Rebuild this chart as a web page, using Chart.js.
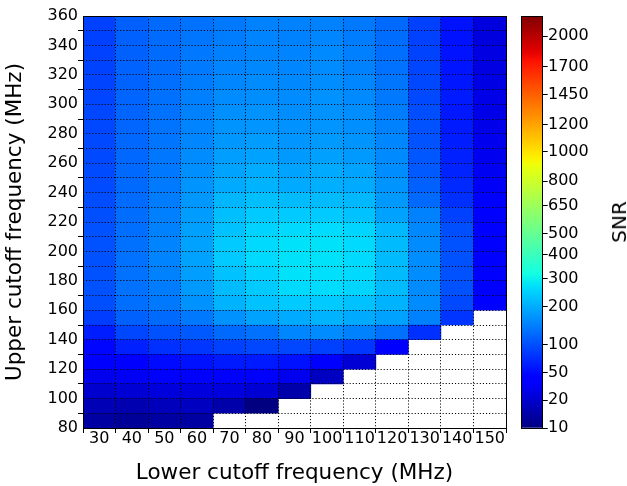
<!DOCTYPE html>
<html>
<head>
<meta charset="utf-8">
<script src="https://cdn.jsdelivr.net/npm/chart.js@4.4.1/dist/chart.umd.min.js"></script>
<style>
  html, body { margin: 0; padding: 0; background: #fff; }
  #wrap { position: relative; width: 627px; height: 486px; }
  #heat { position: absolute; left: 0; top: 0; }
  #cbar { position: absolute; left: 500px; top: 0; }
  #snrLabel {
    position: absolute; left: 618.5px; top: 222px;
    transform: translate(-50%, -50%) rotate(-90deg);
    font: 20px 'DejaVu Sans'; line-height: 1; color: #000; white-space: nowrap;
  }
</style>
</head>
<body>
<div id="wrap">
  <canvas id="heat" width="627" height="486"></canvas>
  <canvas id="cbar" width="127" height="486"></canvas>
  <div id="snrLabel">SNR</div>
</div>
<script>
// columnas (corte inferior) y filas (corte superior, inicio de cada celda)
const lowerCutoff = ['30', '40', '50', '60', '70', '80', '90', '100', '110', '120', '130', '140', '150'];
const upperCutoff = [80, 90, 100, 110, 120, 130, 140, 150, 160, 170, 180, 190, 200, 210,
                     220, 230, 240, 250, 260, 270, 280, 290, 300, 310, 320, 330, 340, 350];
const yLabels = [80, 100, 120, 140, 160, 180, 200, 220, 240, 260, 280, 300, 320, 340, 360];
const cbTicks = [10, 20, 50, 100, 200, 300, 400, 500, 650, 800, 1000, 1200, 1450, 1700, 2000];

// SNR por columna, filas de 80 a 350 (null = celda vacia)
const snr30 = [12, 15, 20, 30, 38, 47, 62, 85, 100, 102, 102, 102, 102, 102, 100, 98, 97, 96, 95, 95, 94, 93, 92, 91, 90, 89, 88, 88];
const snr40 = [11, 14, 22, 33, 42, 64, 93, 117, 130, 133, 133, 133, 132, 130, 128, 126, 125, 124, 123, 122, 121, 120, 119, 118, 118, 117, 117, 116];
const snr50 = [12, 16, 24, 38, 50, 75, 102, 125, 141, 145, 150, 152, 152, 150, 148, 145, 142, 140, 138, 136, 134, 133, 132, 130, 128, 127, 126, 125];
const snr60 = [12, 17, 25, 42, 54, 80, 108, 141, 168, 178, 183, 187, 187, 185, 180, 175, 170, 165, 160, 156, 152, 150, 148, 145, 142, 140, 137, 133];
const snr70 = [null, 13, 25, 42, 60, 88, 125, 168, 208, 220, 229, 240, 240, 229, 225, 212, 197, 190, 182, 175, 170, 165, 160, 156, 152, 148, 145, 141];
const snr80 = [null, 10, 22, 40, 60, 93, 133, 187, 229, 240, 252, 262, 262, 252, 240, 225, 208, 200, 187, 180, 172, 168, 164, 160, 157, 154, 152, 150];
const snr90 = [null, null, 13, 30, 54, 93, 155, 197, 240, 262, 274, 274, 274, 262, 240, 220, 197, 190, 178, 172, 168, 164, 160, 157, 155, 152, 150, 150];
const snr100 = [null, null, null, 17, 38, 88, 160, 208, 240, 265, 270, 274, 274, 265, 240, 220, 205, 197, 185, 178, 172, 168, 168, 163, 160, 159, 155, 150];
const snr110 = [null, null, null, null, 22, 80, 150, 197, 229, 255, 262, 262, 262, 255, 229, 215, 197, 190, 178, 170, 165, 162, 159, 155, 150, 147, 144, 141];
const snr120 = [null, null, null, null, null, 40, 133, 187, 208, 220, 220, 220, 220, 215, 187, 178, 170, 163, 159, 155, 150, 145, 141, 137, 133, 130, 128, 125];
const snr130 = [null, null, null, null, null, null, 75, 150, 160, 160, 162, 162, 160, 158, 150, 125, 117, 110, 107, 104, 102, 99, 95, 94, 92, 90, 89, 88];
const snr140 = [null, null, null, null, null, null, null, 78, 95, 102, 102, 102, 102, 100, 88, 75, 70, 66, 64, 62, 60, 58, 60, 57, 56, 55, 54, 54];
const snr150 = [null, null, null, null, null, null, null, null, 42, 42, 43, 43, 43, 42, 40, 37, 34, 32, 31, 30, 29, 28, 28, 27, 26, 26, 25, 25];
const snrColumns = [snr30, snr40, snr50, snr60, snr70, snr80, snr90, snr100, snr110, snr120, snr130, snr140, snr150];

const vmin = 10, vmax = 2210;
const FONT = 'DejaVu Sans';

// PowerNorm gamma 0.5
function norm(v) {
    const t = Math.min(Math.max((v - vmin) / (vmax - vmin), 0), 1);
    return Math.sqrt(t);
}

// mapa de colores jet
const jetR = [[0, 0], [0.35, 0], [0.66, 1], [0.89, 1], [1, 0.5]];
const jetG = [[0, 0], [0.125, 0], [0.375, 1], [0.64, 1], [0.91, 0], [1, 0]];
const jetB = [[0, 0.5], [0.11, 1], [0.34, 1], [0.65, 0], [1, 0]];
function seg(s, x) {
    for (let i = 0; i < s.length - 1; i++) {
        if (x <= s[i + 1][0]) {
            const t = (x - s[i][0]) / (s[i + 1][0] - s[i][0]);
            return s[i][1] + t * (s[i + 1][1] - s[i][1]);
        }
    }
    return s[s.length - 1][1];
}
function jet(f) {
    const r = Math.round(255 * seg(jetR, f));
    const g = Math.round(255 * seg(jetG, f));
    const b = Math.round(255 * seg(jetB, f));
    return `rgb(${r},${g},${b})`;
}

// marco de los ejes
const frame = {
    id: 'frame',
    afterDraw(chart) {
        const { ctx, chartArea: a } = chart;
        ctx.save();
        ctx.strokeStyle = '#000';
        ctx.lineWidth = 1;
        const l = Math.floor(a.left) + 0.5, t = Math.floor(a.top) + 0.5;
        const r = Math.floor(a.right) + 0.5, b = Math.floor(a.bottom) + 0.5;
        ctx.strokeRect(l, t, r - l, b - t);
        ctx.restore();
    }
};

// una serie por fila: barras flotantes [u, u+10]
const datasets = upperCutoff.map((u, i) => ({
    data: snrColumns.map(col => col[i] == null ? null : [u, u + 10]),
    backgroundColor: snrColumns.map(col => col[i] == null ? 'rgba(0,0,0,0)' : jet(norm(col[i]))),
    borderWidth: 0,
    barPercentage: 1,
    categoryPercentage: 1,
    grouped: false
}));

new Chart(document.getElementById('heat'), {
    type: 'bar',
    data: { labels: lowerCutoff, datasets: datasets },
    options: {
        responsive: false,
        animation: false,
        layout: { padding: { left: 0, top: 16, right: 121, bottom: 0 } },
        plugins: { legend: { display: false }, tooltip: { enabled: false } },
        scales: {
            x: {
                type: 'category',
                offset: true,
                grid: { z: 1, offset: true, color: '#000', lineWidth: 1, tickLength: 5, tickColor: '#000' },
                border: { display: false, dash: [1.1, 2] },
                ticks: { color: '#000', font: { family: FONT, size: 16, lineHeight: 1 }, padding: -2, maxRotation: 0, autoSkip: false },
                title: {
                    display: true, text: 'Lower cutoff frequency (MHz)', color: '#000',
                    font: { family: FONT, size: 21.5, lineHeight: 1 }, padding: { top: 0, bottom: 1.5 }
                },
                afterFit: s => { s.height = 58; }
            },
            y: {
                type: 'linear',
                min: 80,
                max: 360,
                grid: {
                    z: 1, color: '#000', lineWidth: 1, tickLength: 5,
                    tickColor: c => (c.tick && c.tick.value % 20 === 10) ? '#000' : 'rgba(0,0,0,0)'
                },
                border: { display: false, dash: [1.1, 2] },
                ticks: {
                    stepSize: 10, autoSkip: false, padding: 0, color: '#000',
                    font: { family: FONT, size: 16, lineHeight: 1 },
                    callback: v => yLabels.includes(v) ? String(v) : ''
                },
                title: {
                    display: true, text: 'Upper cutoff frequency (MHz)', color: '#000',
                    font: { family: FONT, size: 21.5, lineHeight: 1 }, padding: { top: 4.25, bottom: 0 }
                },
                afterFit: s => { s.width = 83; }
            }
        }
    },
    plugins: [frame]
});

// barra de colores
function jetGradient(c) {
    const a = c.chart.chartArea;
    if (!a) return 'rgb(0,0,255)';
    const g = c.chart.ctx.createLinearGradient(0, a.bottom, 0, a.top);
    for (let k = 0; k <= 64; k++) g.addColorStop(k / 64, jet(k / 64));
    return g;
}

new Chart(document.getElementById('cbar'), {
    type: 'bar',
    data: {
        labels: ['SNR'],
        datasets: [{ data: [[0, 1]], backgroundColor: jetGradient, borderWidth: 0, barPercentage: 1, categoryPercentage: 1 }]
    },
    options: {
        responsive: false,
        animation: false,
        layout: { padding: { left: 21.7, top: 16, right: 0, bottom: 58 } },
        plugins: { legend: { display: false }, tooltip: { enabled: false } },
        scales: {
            x: { display: false },
            y: {
                position: 'right',
                min: 0,
                max: 1,
                afterBuildTicks: s => { s.ticks = cbTicks.map(v => ({ value: norm(v) })); },
                grid: { drawOnChartArea: false, tickLength: 5, tickColor: '#000' },
                border: { display: false },
                ticks: {
                    autoSkip: false, padding: 0.3, color: '#000',
                    font: { family: FONT, size: 16, lineHeight: 1 },
                    callback: (v, i) => String(cbTicks[i])
                },
                afterFit: s => { s.width = 127 - 42.7; }
            }
        }
    },
    plugins: [frame]
});
</script>
</body>
</html>
